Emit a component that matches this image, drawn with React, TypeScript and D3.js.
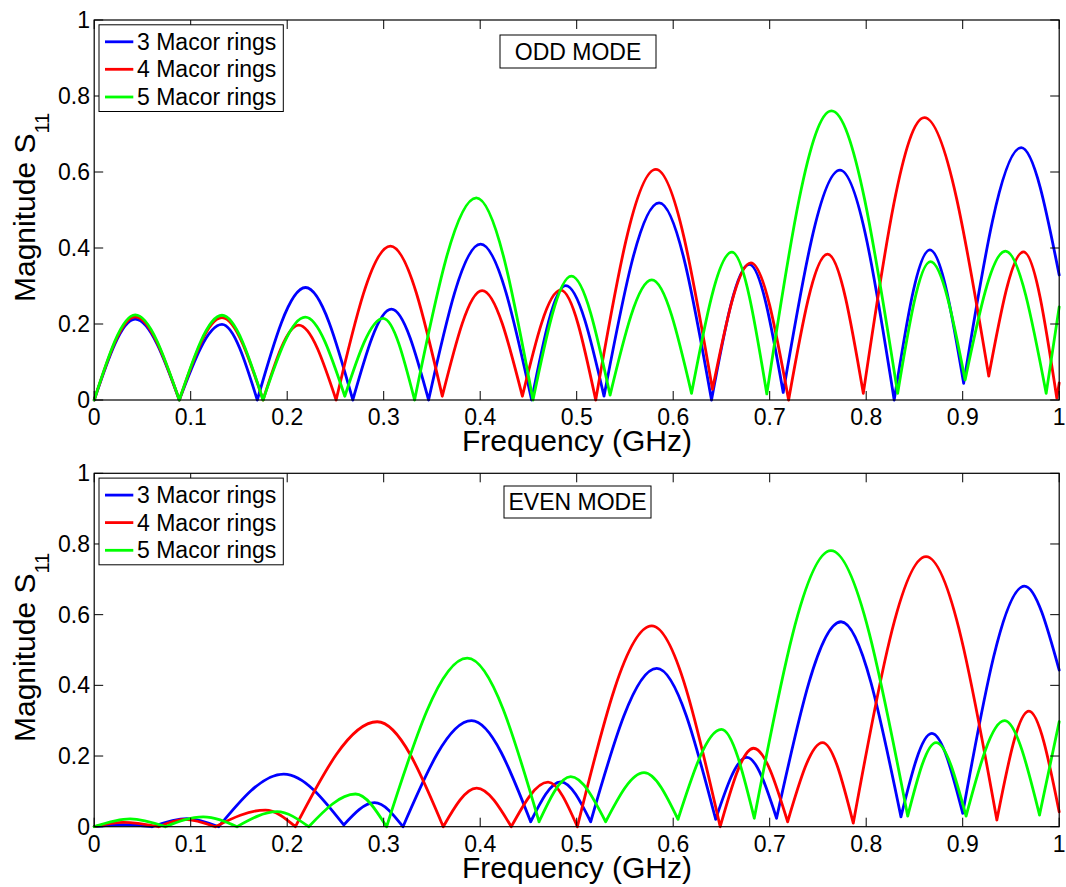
import React from "react";
import * as d3 from "d3";

// ---------- data ----------
const freqTicks = [0, 0.1, 0.2, 0.3, 0.4, 0.5, 0.6, 0.7, 0.8, 0.9, 1];
const freqTickLabels = ["0", "0.1", "0.2", "0.3", "0.4", "0.5", "0.6", "0.7", "0.8", "0.9", "1"];
const magTicks = [0, 0.2, 0.4, 0.6, 0.8, 1];
const magTickLabels = ["0", "0.2", "0.4", "0.6", "0.8", "1"];

const seriesNames = ["3 Macor rings", "4 Macor rings", "5 Macor rings"];
const seriesColors = ["#0000ff", "#ff0000", "#00ff00"];
const panelTitles = ["ODD MODE", "EVEN MODE"];

// extremum points [frequency GHz, |S11|] – ODD MODE
const odd3: [number, number][] = [
  [0, 0], [0.0425, 0.213], [0.0882, 0], [0.1324, 0.199], [0.169, 0], [0.219, 0.296],
  [0.268, 0], [0.308, 0.239], [0.3465, 0], [0.4004, 0.41], [0.4533, 0], [0.4886, 0.301],
  [0.5283, 0.01], [0.5854, 0.519], [0.6397, 0], [0.6788, 0.357], [0.714, 0.02],
  [0.7728, 0.605], [0.829, 0], [0.866, 0.395], [0.901, 0.044], [0.9606, 0.664], [1.0, 0.329],
];
const odd4: [number, number][] = [
  [0, 0], [0.0425, 0.219], [0.0882, 0], [0.1324, 0.217], [0.175, 0], [0.212, 0.197],
  [0.2507, 0], [0.307, 0.405], [0.3607, 0.01], [0.402, 0.288], [0.4437, 0.01], [0.4834, 0.289],
  [0.5197, 0], [0.582, 0.607], [0.6407, 0.028], [0.6805, 0.361], [0.7196, 0], [0.76, 0.384],
  [0.797, 0.0175], [0.8603, 0.743], [0.927, 0.063], [0.963, 0.39], [0.9975, 0.005], [1.0, 0.045],
];
const odd5: [number, number][] = [
  [0, 0], [0.0425, 0.224], [0.0882, 0], [0.1324, 0.223], [0.175, 0], [0.2187, 0.218],
  [0.2597, 0.01], [0.2995, 0.215], [0.332, 0], [0.396, 0.532], [0.4547, 0], [0.4945, 0.326],
  [0.5346, 0.013], [0.5778, 0.316], [0.619, 0.0175], [0.6608, 0.389], [0.697, 0.016],
  [0.764, 0.761], [0.8326, 0.0175], [0.8665, 0.364], [0.9025, 0.053], [0.9443, 0.392],
  [0.9865, 0.0175], [1.0, 0.245],
];

// EVEN MODE
const even3: [number, number][] = [
  [0, 0], [0.03, 0.006], [0.06, 0], [0.096, 0.023], [0.129, 0], [0.1964, 0.149],
  [0.2586, 0.005], [0.2905, 0.068], [0.32, 0], [0.391, 0.3], [0.4523, 0.014], [0.4834, 0.127],
  [0.5145, 0.014], [0.583, 0.448], [0.644, 0.021], [0.6763, 0.196], [0.7071, 0.024],
  [0.7739, 0.58], [0.836, 0.028], [0.868, 0.264], [0.9, 0.038], [0.964, 0.681], [1.0, 0.443],
];
const even4: [number, number][] = [
  [0, 0], [0.0304, 0.012], [0.0667, 0], [0.0937, 0.021], [0.1255, 0], [0.1774, 0.047],
  [0.2085, 0], [0.2933, 0.297], [0.3617, 0], [0.3963, 0.109], [0.4322, 0], [0.4703, 0.126],
  [0.5007, 0], [0.5778, 0.568], [0.6487, 0], [0.6833, 0.222], [0.7186, 0.014], [0.7548, 0.238],
  [0.7866, 0.01], [0.862, 0.764], [0.9354, 0.019], [0.9686, 0.327], [1.0, 0.042],
];
const even5: [number, number][] = [
  [0, 0], [0.0373, 0.022], [0.0737, 0], [0.113, 0.028], [0.148, 0], [0.1895, 0.0425],
  [0.2223, 0], [0.2708, 0.0925], [0.303, 0], [0.3866, 0.477], [0.461, 0.014], [0.4938, 0.1415],
  [0.53, 0.014], [0.5698, 0.153], [0.605, 0.021], [0.65, 0.2755], [0.684, 0.024],
  [0.7635, 0.781], [0.843, 0.03], [0.8724, 0.238], [0.9035, 0.03], [0.9433, 0.3],
  [0.9796, 0.033], [1.0, 0.297],
];

const panelSeries = [
  [odd3, odd4, odd5],
  [even3, even4, even5],
];

// ---------- layout ----------
const W = 1066;
const H = 887;
const FONT = "'Liberation Sans', Arial, Helvetica, sans-serif";
const axLeft = 94.2;
const axRight = 1059.2;
const panels = [
  { top: 20, bottom: 400, titleBox: [500, 35, 156, 33] },
  { top: 473.3, bottom: 826.7, titleBox: [504, 486, 147, 32] },
];
const TICK = 9;

function splitAtMinima(pts: [number, number][]) {
  const bounds = [0];
  for (let i = 1; i < pts.length - 1; i++) {
    if (pts[i][1] <= pts[i - 1][1] && pts[i][1] <= pts[i + 1][1]) bounds.push(i);
  }
  bounds.push(pts.length - 1);
  const segs: [number, number][][] = [];
  for (let k = 0; k < bounds.length - 1; k++) segs.push(pts.slice(bounds[k], bounds[k + 1] + 1));
  return segs;
}

function Panel({ idx }: { idx: number }) {
  const p = panels[idx];
  const x = d3.scaleLinear().domain([0, 1]).range([axLeft, axRight]);
  const y = d3.scaleLinear().domain([0, 1]).range([p.bottom, p.top]);
  const line = d3
    .line<[number, number]>()
    .x((d) => x(d[0]))
    .y((d) => y(d[1]))
    .curve(d3.curveMonotoneX);
  const series = panelSeries[idx];
  const [bx, by, bw, bh] = p.titleBox;
  const midY = (p.top + p.bottom) / 2;
  const legTop = p.top + 4.8;
  const legRows = [21.5, 49, 76.7];
  return (
    <g>
      {/* curves */}
      {series.map((pts, si) => (
        <path
          key={si}
          d={splitAtMinima(pts).map((s) => line(s)).join("")}
          fill="none"
          stroke={seriesColors[si]}
          strokeWidth={2.8}
          strokeLinejoin="round"
          strokeLinecap="round"
        />
      ))}
      {/* axes box */}
      <rect x={axLeft} y={p.top} width={axRight - axLeft} height={p.bottom - p.top} fill="none" stroke="#000" strokeWidth={1.2} />
      {freqTicks.map((t, i) => (
        <g key={"x" + i}>
          <line x1={x(t)} x2={x(t)} y1={p.bottom} y2={p.bottom - TICK} stroke="#000" strokeWidth={1} />
          <line x1={x(t)} x2={x(t)} y1={p.top} y2={p.top + TICK} stroke="#000" strokeWidth={1} />
          <text x={x(t)} y={p.bottom + 25} textAnchor="middle" fontSize={23} fontFamily={FONT}>
            {freqTickLabels[i]}
          </text>
        </g>
      ))}
      {magTicks.map((t, i) => (
        <g key={"y" + i}>
          <line x1={axLeft} x2={axLeft + TICK} y1={y(t)} y2={y(t)} stroke="#000" strokeWidth={1} />
          <line x1={axRight} x2={axRight - TICK} y1={y(t)} y2={y(t)} stroke="#000" strokeWidth={1} />
          <text x={90} y={y(t) + 8} textAnchor="end" fontSize={23} fontFamily={FONT}>
            {magTickLabels[i]}
          </text>
        </g>
      ))}
      {/* axis labels */}
      <text x={577} y={p.bottom + 51} textAnchor="middle" fontSize={30} fontFamily={FONT}>
        Frequency (GHz)
      </text>
      <text transform={`translate(35,${midY + 92}) rotate(-90)`} fontSize={30} fontFamily={FONT}>
        Magnitude S
        <tspan fontSize={20} dy={14}>11</tspan>
      </text>
      {/* title box */}
      <rect x={bx} y={by} width={bw} height={bh} fill="#fff" stroke="#000" strokeWidth={1} />
      <text x={bx + bw / 2} y={by + bh / 2 + 8} textAnchor="middle" fontSize={23} fontFamily={FONT}>
        {panelTitles[idx]}
      </text>
      {/* legend */}
      <rect x={99} y={legTop} width={184.3} height={86.7} fill="#fff" stroke="#000" strokeWidth={1} />
      {seriesNames.map((n, si) => (
        <g key={"l" + si}>
          <line x1={105} x2={133.3} y1={legTop + legRows[si] - 4.5} y2={legTop + legRows[si] - 4.5} stroke={seriesColors[si]} strokeWidth={2.8} />
          <text x={137} y={legTop + legRows[si] + 3.5} fontSize={23} fontFamily={FONT}>
            {n}
          </text>
        </g>
      ))}
    </g>
  );
}

export default function App() {
  return (
    <svg width={W} height={H} style={{ position: "absolute", left: 0, top: 0, background: "#fff" }}>
      <rect x={0} y={0} width={W} height={H} fill="#fff" />
      <Panel idx={0} />
      <Panel idx={1} />
    </svg>
  );
}
